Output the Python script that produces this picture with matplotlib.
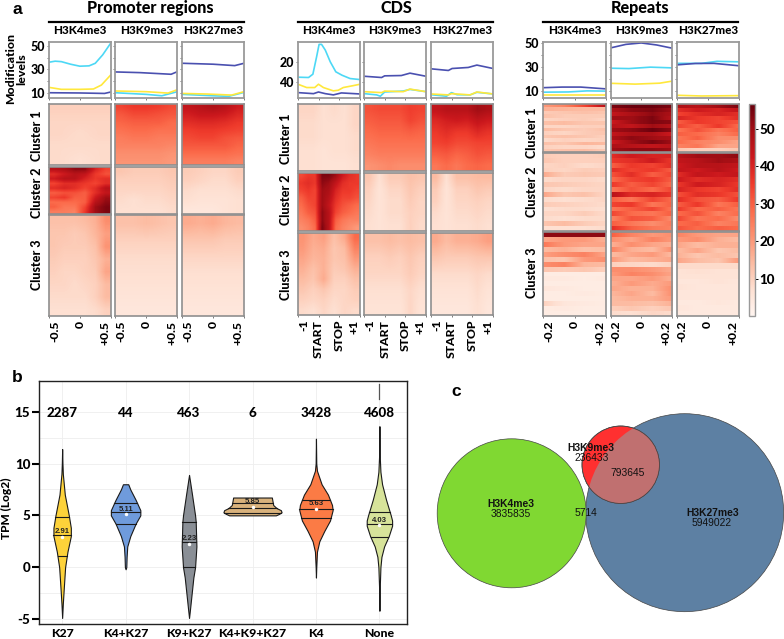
import matplotlib
matplotlib.use("Agg")
import matplotlib.pyplot as plt
import numpy as np
from matplotlib.cm import ScalarMappable
from matplotlib.colors import Normalize
from matplotlib.patches import Circle

W, H = 784, 639
LABEL_FONT = "Lato"
LABEL_WEIGHT = 900
ARIAL = "Liberation Sans"

MARKS = ["H3K4me3", "H3K9me3", "H3K27me3"]
CYAN, YELLOW, NAVY = "#4dd8f5", "#ffe83c", "#4a50b0"

# profile curves: (x fraction, value) per colour
PROMOTER_K4_CYAN = ([0, .1, .2, .35, .5, .65, .75, .87, 1], [36.1, 37, 36.6, 34.4, 32.7, 33, 35.2, 42.4, 52.4])
PROMOTER_K4_YELLOW = ([0, .2, .5, .72, .85, 1], [14.6, 12.9, 12.9, 13.2, 16.6, 25.2])
PROMOTER_K4_NAVY = ([0, .5, .9, 1], [10, 9.8, 9.4, 10.6])
PROMOTER_K9_NAVY = ([0, .4, .9, 1], [27.8, 27.2, 25.8, 28])
PROMOTER_K9_YELLOW = ([0, .5, .85, 1], [11.5, 10.9, 9.7, 12.6])
PROMOTER_K9_CYAN = ([0, .5, .75, 1], [10, 8.6, 7.4, 10.9])
PROMOTER_K27_NAVY = ([0, .5, .85, 1], [35.2, 34.4, 33.2, 35.2])
PROMOTER_K27_YELLOW = ([0, .4, .8, 1], [9.4, 8.9, 8, 10.9])
PROMOTER_K27_CYAN = ([0, .5, .75, 1], [8.6, 7.4, 6.9, 10.3])

CDS_K4_CYAN = ([0, .17, .24, .30, .34, .38, .44, .52, .61, .71, .84, 1], [34.9, 35.2, 32, 15.2, 3.2, 3.2, 8.7, 20, 29.7, 33, 36.2, 37.2])
CDS_K4_YELLOW = ([0, .14, .27, .33, .41, .57, .65, .73, .87, 1], [41.7, 44.9, 44.9, 41.7, 44.9, 48.1, 47.5, 44.9, 43.3, 41.7])
CDS_K4_NAVY = ([0, .25, .33, .44, .57, .70, 1], [49.8, 50.8, 49.2, 50.8, 52, 50.1, 51.1])
CDS_K9_NAVY = ([0, .28, .33, .6, .74, 1], [34, 35.2, 33.6, 33.3, 31, 34])
CDS_K9_YELLOW = ([0, .28, .33, .63, .74, 1], [48.9, 49.8, 48.3, 48.9, 46.4, 48.9])
CDS_K9_CYAN = ([0, .2, .26, .33, .63, .74, 1], [50.8, 52, 53.3, 49.2, 48.3, 46.7, 48.9])
CDS_K27_NAVY = ([0, .28, .34, .6, .74, 1], [26.8, 28.4, 26.5, 25.5, 23.2, 26.5])
CDS_K27_YELLOW = ([0, .28, .33, .63, .74, 1], [51.1, 52, 50.8, 52, 49.2, 51.1])
CDS_K27_CYAN = ([0, .25, .33, .42, .63, .74, 1], [51.8, 53.3, 49.8, 51.8, 52, 49.5, 51.1])

REPEATS_K4_NAVY = ([0, .3, .6, 1], [12.5, 13, 13, 11.5])
REPEATS_K4_CYAN = ([0, .4, .7, 1], [8.7, 8.9, 9.8, 9.6])
REPEATS_K4_YELLOW = ([0, 1], [6.1, 6.1])
REPEATS_K9_NAVY = ([0, .25, .5, .75, 1], [46, 49, 50.2, 48.5, 45.8])
REPEATS_K9_CYAN = ([0, .3, .65, 1], [28.9, 28.6, 29.8, 29.2])
REPEATS_K9_YELLOW = ([0, .4, .8, 1], [16.2, 15.5, 16.3, 18])
REPEATS_K27_NAVY = ([0, .3, .6, 1], [31.7, 32.9, 33, 31])
REPEATS_K27_CYAN = ([0, .4, .65, 1], [33, 33, 34.7, 34.3])
REPEATS_K27_YELLOW = ([0, .4, 1], [6.1, 5.5, 5.8])

# heatmap cells, rows top to bottom, columns left to right
PROMOTER_K4_C1 = [[10, 10, 10], [9, 9, 9], [9, 8, 9], [8, 8, 8], [8, 7, 8]]
PROMOTER_K4_C2 = [[46, 48, 52, 52, 40, 34], [38, 42, 46, 44, 36, 32], [42, 46, 46, 40, 36, 38], [34, 38, 38, 36, 34, 38],
                  [38, 40, 38, 34, 38, 46], [30, 32, 32, 30, 38, 44], [34, 36, 30, 30, 42, 50], [28, 28, 28, 30, 46, 52],
                  [30, 26, 26, 34, 50, 54], [25, 25, 24, 36, 50, 54]]
PROMOTER_K4_C3 = [[13, 13, 13, 14, 16, 22], [12, 12, 11, 12, 15, 19], [12, 11, 11, 11, 13, 21], [11, 10, 10, 10, 12, 16],
                  [10, 9, 9, 10, 11, 18], [9, 9, 8, 9, 10, 14], [8, 8, 8, 8, 10, 14], [7, 7, 7, 7, 8, 10]]
PROMOTER_K9_C1 = [[34, 36, 36, 35, 33], [31, 33, 33, 32, 31], [29, 30, 30, 30, 28], [27, 28, 28, 27, 27],
                  [25, 26, 26, 25, 25], [24, 24, 24, 24, 23], [22, 22, 22, 22, 21], [21, 21, 21, 21, 20]]
PROMOTER_K9_C2 = [[12, 11, 11, 11, 12], [10, 10, 10, 10, 11], [9, 9, 9, 9, 10], [8, 7, 8, 8, 9], [7, 7, 7, 7, 8]]
PROMOTER_K9_C3 = [[13, 13, 14, 13, 12], [10, 10, 10, 10, 10], [8, 8, 8, 8, 8], [7, 7, 7, 7, 7], [6, 6, 6, 6, 6], [5, 5, 5, 5, 5]]
PROMOTER_K27_C1 = [[44, 46, 48, 46, 42], [41, 43, 43, 42, 39], [38, 39, 39, 38, 36], [35, 36, 36, 35, 34],
                   [33, 34, 34, 32, 31], [31, 31, 31, 31, 29], [28, 28, 28, 28, 27], [25, 25, 25, 25, 24]]
PROMOTER_K27_C2 = [[11, 10, 9, 9, 11], [10, 9, 8, 8, 10], [8, 7, 7, 7, 8], [7, 6, 6, 6, 7], [5, 5, 5, 6, 7]]
PROMOTER_K27_C3 = [[17, 16, 17, 15, 14], [12, 12, 12, 11, 11], [9, 9, 9, 9, 9], [7, 7, 7, 7, 7], [6, 6, 6, 6, 6], [5, 5, 5, 5, 5]]

CDS_K4_C1 = [[9, 9, 7, 8, 7, 9], [8, 8, 7, 7, 7, 9], [8, 8, 7, 7, 7, 8], [7, 7, 6, 7, 7, 8], [7, 7, 6, 6, 6, 7]]
CDS_K4_C2 = [[33, 36, 36, 54, 54, 50, 42, 38, 36], [36, 38, 36, 52, 50, 44, 38, 36, 36], [34, 36, 34, 50, 48, 40, 36, 36, 34],
             [30, 34, 34, 50, 46, 38, 34, 34, 32], [28, 32, 34, 50, 44, 36, 32, 30, 28], [26, 30, 32, 52, 46, 34, 30, 28, 26],
             [24, 26, 30, 52, 46, 30, 26, 24, 24], [22, 24, 28, 54, 46, 28, 24, 22, 20]]
CDS_K4_C3 = [[21, 17, 19, 13, 17, 28], [20, 16, 17, 12, 14, 24], [18, 15, 16, 12, 13, 20], [16, 13, 16, 11, 12, 16],
             [14, 12, 17, 10, 10, 13], [12, 10, 12, 9, 9, 11], [10, 9, 10, 8, 9, 10], [8, 7, 9, 7, 9, 8]]
CDS_K9_C1 = [[32, 33, 33, 33, 35, 34], [30, 31, 31, 31, 34, 32], [28, 29, 29, 29, 30, 29], [26, 27, 27, 27, 27, 27],
             [24, 25, 25, 25, 25, 25], [21, 22, 23, 22, 22, 22]]
CDS_K9_C2 = [[12, 7, 11, 11, 13, 12], [10, 6, 9, 9, 12, 10], [9, 6, 8, 8, 11, 9], [8, 6, 8, 8, 10, 9], [7, 6, 7, 7, 10, 8]]
CDS_K9_C3 = [[13, 13, 14, 13, 14, 13], [10, 10, 11, 10, 12, 10], [9, 9, 9, 9, 11, 9], [7, 7, 7, 7, 9, 7], [6, 6, 6, 6, 9, 6]]
CDS_K27_C1 = [[44, 46, 46, 46, 50, 48], [39, 41, 42, 41, 44, 42], [36, 38, 36, 36, 39, 37], [34, 35, 33, 33, 34, 34],
              [30, 31, 29, 30, 32, 31], [26, 28, 26, 28, 29, 28]]
CDS_K27_C2 = [[14, 7, 13, 13, 14, 14], [11, 6, 10, 10, 12, 11], [10, 6, 9, 9, 10, 9], [8, 6, 8, 8, 9, 8], [7, 6, 7, 7, 8, 7]]
CDS_K27_C3 = [[17, 14, 16, 16, 17, 19], [12, 11, 11, 11, 12, 12], [8, 8, 8, 8, 9, 8], [6, 6, 6, 6, 8, 6], [5, 5, 5, 5, 7, 5]]

REPEATS_K4_C1 = [[20, 24, 34, 46], [16, 15, 14, 14], [11, 12, 13, 12], [13, 11, 11, 11], [9, 10, 11, 9], [13, 14, 12, 12],
                 [9, 9, 10, 10], [14, 12, 11, 13], [10, 9, 11, 12], [12, 13, 12, 10], [8, 10, 9, 10], [13, 12, 15, 14],
                 [10, 9, 9, 8], [12, 13, 14, 11]]
REPEATS_K4_C2 = [[11, 10, 10, 11], [12, 10, 10, 10], [9, 10, 8, 9], [10, 9, 11, 10], [17, 11, 12, 11], [8, 9, 9, 8],
                 [12, 11, 10, 9], [9, 8, 9, 9], [18, 12, 13, 9], [8, 7, 8, 9], [11, 10, 9, 8], [7, 8, 8, 7],
                 [9, 9, 11, 8], [8, 7, 8, 8], [12, 14, 11, 9], [7, 7, 7, 8]]
REPEATS_K4_C3 = [[52, 52, 52, 52], [18, 20, 20, 16], [26, 20, 18, 18], [14, 16, 13, 14], [19, 22, 24, 18], [13, 12, 20, 22],
                 [22, 24, 15, 14], [12, 11, 12, 10], [3, 3, 3, 3], [4, 4, 3, 4], [3, 3, 3, 3], [5, 4, 3, 3],
                 [3, 3, 4, 3], [3, 3, 3, 3], [10, 5, 4, 3], [3, 4, 3, 3], [3, 3, 3, 3]]
REPEATS_K9_C1 = [[54, 56, 56, 54], [48, 52, 54, 50], [44, 48, 52, 48], [50, 50, 54, 46], [42, 50, 54, 52], [46, 44, 50, 46],
                 [50, 52, 56, 52], [44, 48, 48, 42], [48, 52, 50, 48], [42, 50, 54, 50], [48, 46, 44, 46], [50, 52, 52, 50]]
REPEATS_K9_C2 = [[38, 42, 40, 40], [36, 38, 42, 36], [30, 36, 34, 38], [38, 34, 36, 30], [32, 38, 30, 34], [28, 34, 36, 30],
                 [36, 30, 34, 28], [26, 32, 28, 34], [46, 38, 40, 36], [30, 26, 34, 28], [34, 36, 26, 30], [26, 30, 34, 26],
                 [34, 28, 26, 30], [24, 32, 30, 22], [30, 26, 22, 26], [38, 30, 26, 24]]
REPEATS_K9_C3 = [[30, 24, 20, 22], [22, 18, 24, 20], [16, 22, 18, 16], [24, 16, 14, 22], [14, 18, 20, 14], [20, 14, 16, 18],
                 [10, 9, 8, 10], [22, 22, 20, 17], [20, 24, 22, 18], [18, 18, 20, 16], [16, 20, 17, 20], [18, 16, 16, 22],
                 [15, 18, 14, 22], [14, 16, 16, 20], [14, 14, 13, 16], [10, 12, 10, 12], [8, 7, 9, 8]]
REPEATS_K27_C1 = [[48, 46, 50, 54], [38, 42, 40, 44], [34, 38, 40, 38], [40, 36, 34, 38], [30, 36, 34, 32], [34, 30, 36, 28],
                  [26, 32, 26, 30], [30, 28, 24, 28], [26, 30, 22, 22], [28, 24, 22, 18], [24, 26, 18, 18], [12, 10, 10, 12]]
REPEATS_K27_C2 = [[46, 50, 50, 52], [44, 46, 50, 48], [42, 46, 46, 44], [44, 42, 46, 42], [38, 44, 42, 44], [42, 38, 40, 38],
                  [36, 42, 40, 36], [40, 36, 34, 38], [32, 38, 36, 32], [38, 32, 30, 36], [30, 36, 26, 30], [36, 28, 30, 26],
                  [28, 32, 24, 28], [34, 26, 28, 22], [28, 30, 24, 26], [32, 28, 30, 28]]
REPEATS_K27_C3 = [[24, 20, 18, 18], [20, 22, 16, 14], [18, 14, 16, 16], [14, 18, 12, 14], [16, 12, 14, 12], [18, 14, 12, 20],
                  [8, 8, 8, 8], [6, 7, 6, 6], [6, 6, 6, 6], [5, 5, 6, 5], [6, 5, 5, 5], [5, 5, 5, 5], [5, 5, 5, 5],
                  [4, 4, 5, 4], [5, 4, 4, 4], [4, 4, 4, 4]]

# panel b
VIOLIN_NAMES = ["K27", "K4+K27", "K9+K27", "K4+K9+K27", "K4", "None"]
COUNTS = ["2287", "44", "463", "6", "3428", "4608"]
MEDIANS = [2.91, 5.11, 2.23, 5.85, 5.63, 4.03]
QUARTILES = [[4.82, 3.09, 1.06], [6.2, 5.3, 4.2], [4.4, 2.4, 0.05], [6.2, 5.7, 5.27], [6.5, 5.6, 4.7], [5.3, 4.2, 2.9]]
VIOLIN_COLORS = ["#fdd23a", "#6f9bdc", "#8a8f96", "#d9b27c", "#fb7b45", "#d7e39a"]
VIOLIN_Y = [
    [11.4, 10, 9, 7, 5, 3.8, 3, 1.5, 0, -2, -3.5, -4.9],
    [8, 7.5, 6.5, 5.5, 5, 4.2, 3, 2, 1, 0, -0.2],
    [8.9, 7, 5, 4.4, 2, 0, -1, -2.5, -4, -4.9],
    [6.72, 6.0, 5.7, 5.5, 5.3, 5.15, 5.0],
    [12.4, 10, 9.3, 8, 7, 6, 5.5, 4.5, 3.5, 2.5, 1.5, 0, -1],
    [13.6, 11, 9.2, 8, 6.5, 5, 4.5, 4, 3, 2, 1, 0, -2, -3.5, -4.2],
]
VIOLIN_HALF = [
    [0, .005, .011, .042, .105, .137, .137, .084, .047, .026, .011, 0],
    [.042, .074, .158, .232, .232, .158, .074, .026, .016, .011, 0],
    [0, .047, .095, .105, .116, .095, .068, .042, .016, 0],
    [.305, .326, .379, .447, .458, .421, .368],
    [0, .005, .016, .089, .189, .253, .263, .221, .132, .053, .016, .005, 0],
    [0, .003, .016, .042, .105, .179, .2, .2, .147, .074, .032, .016, .005, .005, 0],
]
NONE_OUTLIER = [16.2, 17.65]

# panel c
VENN_LABELS = ["H3K4me3", "H3K9me3", "H3K27me3"]
VENN_ONLY = ["3835835", "236433", "5949022"]
VENN_SHARED = ["793645", "5714"]


def px_axes(fig, x0, y0, x1, y1):
    return fig.add_axes([x0 / W, 1 - y1 / H, (x1 - x0) / W, (y1 - y0) / H])


def px_text(fig, x, y, s, **kw):
    kw.setdefault("ha", "center")
    kw.setdefault("va", "center")
    kw.setdefault("fontweight", LABEL_WEIGHT)
    kw.setdefault("family", LABEL_FONT)
    return fig.text(x / W, 1 - y / H, s, **kw)


def style_spines(ax, color="#9a9a9a", lw=1.3):
    for sp in ax.spines.values():
        sp.set_color(color)
        sp.set_linewidth(lw)


def streak_cells(cells):
    # repeats keep their row streaks, only smooth along the columns
    cells = np.array(cells, dtype=float)
    grid = np.arange(cells.shape[1])
    fine = np.arange(0, (cells.shape[1] - 1) * 20 + 1) / 20
    return np.array([np.interp(fine, grid, row) for row in cells])


fig = plt.figure(figsize=(W / 100, H / 100), dpi=100)

GROUPS = [
    {
        "title": "Promoter regions", "tx": 150, "rule": (49.5, 244),
        "cols": [(49, 110.7), (115.3, 177.3), (182.3, 244)],
        "rows": [(104, 165), (167, 214), (215, 316)],
        "clusters_x": 37, "clusters_y": [136, 193, 265],
        "lines": [
            [(PROMOTER_K4_CYAN, CYAN), (PROMOTER_K4_YELLOW, YELLOW), (PROMOTER_K4_NAVY, NAVY)],
            [(PROMOTER_K9_CYAN, CYAN), (PROMOTER_K9_YELLOW, YELLOW), (PROMOTER_K9_NAVY, NAVY)],
            [(PROMOTER_K27_CYAN, CYAN), (PROMOTER_K27_YELLOW, YELLOW), (PROMOTER_K27_NAVY, NAVY)],
        ],
        "ylim": (5.5, 53.4), "yticks": [10, 30, 50], "yminor": [20, 40],
        "cells": [
            [PROMOTER_K4_C1, PROMOTER_K4_C2, PROMOTER_K4_C3],
            [PROMOTER_K9_C1, PROMOTER_K9_C2, PROMOTER_K9_C3],
            [PROMOTER_K27_C1, PROMOTER_K27_C2, PROMOTER_K27_C3],
        ],
        "xticks": [0, .5, 1], "xlabels": ["-0.5", "0", "+0.5"], "streaks": False,
    },
    {
        "title": "CDS", "tx": 396.7, "rule": (298, 492.7),
        "cols": [(298, 360), (364.3, 426), (431, 493)],
        "rows": [(104, 170.7), (172.7, 231.3), (233.3, 315)],
        "clusters_x": 286, "clusters_y": [139, 200, 275],
        "lines": [
            [(CDS_K4_CYAN, CYAN), (CDS_K4_YELLOW, YELLOW), (CDS_K4_NAVY, NAVY)],
            [(CDS_K9_CYAN, CYAN), (CDS_K9_YELLOW, YELLOW), (CDS_K9_NAVY, NAVY)],
            [(CDS_K27_CYAN, CYAN), (CDS_K27_YELLOW, YELLOW), (CDS_K27_NAVY, NAVY)],
        ],
        "ylim": (55, 0.9), "yticks": [20, 40], "yminor": [],
        "cells": [
            [CDS_K4_C1, CDS_K4_C2, CDS_K4_C3],
            [CDS_K9_C1, CDS_K9_C2, CDS_K9_C3],
            [CDS_K27_C1, CDS_K27_C2, CDS_K27_C3],
        ],
        "xticks": [0, 1 / 3, 2 / 3, 1], "xlabels": ["-1", "START", "STOP", "+1"], "streaks": False,
    },
    {
        "title": "Repeats", "tx": 640, "rule": (543, 738),
        "cols": [(543.3, 605.7), (610.5, 672), (676.7, 738.7)],
        "rows": [(104, 152), (153, 231), (232, 316)],
        "clusters_x": 531.7, "clusters_y": [133, 191.7, 273],
        "lines": [
            [(REPEATS_K4_CYAN, CYAN), (REPEATS_K4_YELLOW, YELLOW), (REPEATS_K4_NAVY, NAVY)],
            [(REPEATS_K9_CYAN, CYAN), (REPEATS_K9_YELLOW, YELLOW), (REPEATS_K9_NAVY, NAVY)],
            [(REPEATS_K27_CYAN, CYAN), (REPEATS_K27_YELLOW, YELLOW), (REPEATS_K27_NAVY, NAVY)],
        ],
        "ylim": (3.8, 51), "yticks": [10, 30, 50], "yminor": [20, 40],
        "cells": [
            [REPEATS_K4_C1, REPEATS_K4_C2, REPEATS_K4_C3],
            [REPEATS_K9_C1, REPEATS_K9_C2, REPEATS_K9_C3],
            [REPEATS_K27_C1, REPEATS_K27_C2, REPEATS_K27_C3],
        ],
        "xticks": [0, .5, 1], "xlabels": ["-0.2", "0", "+0.2"], "streaks": True,
    },
]

for group in GROUPS:
    px_text(fig, group["tx"], 8, group["title"], fontsize=11.6)
    fig.add_artist(plt.Line2D([group["rule"][0] / W, group["rule"][1] / W], [1 - 22.3 / H] * 2, color="black", lw=1.6))

    for c, (x0, x1) in enumerate(group["cols"]):
        px_text(fig, (x0 + x1) / 2, 31, MARKS[c], fontsize=8.4)

        # profile on top
        ax = px_axes(fig, x0, 42, x1, 98)
        for (xs, ys), color in group["lines"][c]:
            ax.plot(xs, ys, color=color, lw=1.2, solid_capstyle="round")
        ax.set_xlim(0, 1)
        ax.set_ylim(*group["ylim"])
        ax.set_xticks(group["xticks"])
        ax.set_xticklabels([])
        ax.set_yticks(group["yticks"] + group["yminor"])
        if c == 0:
            labels = [str(t) for t in group["yticks"]] + [""] * len(group["yminor"])
            ax.set_yticklabels(labels, fontsize=9, fontweight=LABEL_WEIGHT, family=LABEL_FONT)
        else:
            ax.set_yticklabels([])
        ax.tick_params(length=1.5, width=0.6, color="#666666", pad=1.5)
        style_spines(ax)

        # heatmap stack
        for r, (y0, y1) in enumerate(group["rows"]):
            ax = px_axes(fig, x0, y0, x1, y1)
            cells = group["cells"][c][r]
            if group["streaks"]:
                ax.imshow(streak_cells(cells), cmap="Reds", vmin=0, vmax=56.6, aspect="auto",
                          interpolation="nearest", extent=(0, 1, 0, 1))
            else:
                ax.imshow(cells, cmap="Reds", vmin=0, vmax=56.6, aspect="auto",
                          interpolation="bilinear", extent=(0, 1, 0, 1))
            ax.set_yticks([])
            if r == 2:
                ax.set_xticks(group["xticks"])
                ax.set_xticklabels(group["xlabels"], rotation=90, fontsize=8.8, fontweight=LABEL_WEIGHT, family=LABEL_FONT)
                ticks = ax.get_xticklabels()
                ticks[0].set_ha("left")
                ticks[-1].set_ha("right")
                ax.tick_params(axis="x", length=1.5, width=0.6, color="#666666", pad=2)
            else:
                ax.set_xticks([])
            style_spines(ax, "#8f8f8f", 1.2)

    for i, y in enumerate(group["clusters_y"]):
        px_text(fig, group["clusters_x"], y, f"Cluster {i + 1}", rotation=90, fontsize=9)

px_text(fig, 16, 69, "Modification\nlevels", rotation=90, fontsize=8.8, linespacing=1.05)
px_text(fig, 17, 9.5, "a", family=ARIAL, fontsize=12.5, fontweight="bold")
px_text(fig, 17, 377, "b", family=ARIAL, fontsize=12.5, fontweight="bold")
px_text(fig, 455.7, 392, "c", family=ARIAL, fontsize=12.5, fontweight="bold")

# colour bar
cax = px_axes(fig, 748.7, 104, 754.7, 316)
cb = fig.colorbar(ScalarMappable(Normalize(0, 56.6), "Reds"), cax=cax)
cb.set_ticks([10, 20, 30, 40, 50])
cb.ax.set_yticklabels(["10", "20", "30", "40", "50"], fontsize=9.6, fontweight=LABEL_WEIGHT, family=LABEL_FONT)
cb.ax.tick_params(length=2, width=0.7, pad=1.5)
cb.outline.set_edgecolor("#9a9a9a")
cb.outline.set_linewidth(1)

# panel b
ax = px_axes(fig, 39.3, 380.7, 406.7, 624.3)
ax.set_xlim(0.64, 6.43)
ax.set_ylim(-5.51, 17.99)
ax.set_yticks([-2.5, 2.5, 7.5, 12.5], minor=True)
ax.grid(True, which="both", color="#eeeeee", lw=0.6)
ax.set_axisbelow(True)
for i, name in enumerate(VIOLIN_NAMES):
    pos = i + 1
    ys = np.array(VIOLIN_Y[i])
    half = np.array(VIOLIN_HALF[i])
    ax.fill_betweenx(ys, pos - half, pos + half, facecolor=VIOLIN_COLORS[i], edgecolor="#1a1a1a", lw=0.8, zorder=2)
    for q in QUARTILES[i]:
        w = np.interp(q, ys[::-1], half[::-1])
        ax.plot([pos - w, pos + w], [q, q], color="#1a1a1a", lw=0.8, zorder=3)
    ax.plot(pos, MEDIANS[i], "o", color="white", ms=2.5, mew=0, zorder=4)
    ax.text(pos, MEDIANS[i] + 0.5, f"{MEDIANS[i]:.2f}", ha="center", va="center", fontsize=5.6,
            fontweight="bold", family=ARIAL, color="#222222", zorder=5)
    ax.text(pos, 14.9, COUNTS[i], ha="center", va="center", fontsize=9.6, fontweight=LABEL_WEIGHT, family=LABEL_FONT)
ax.plot([6, 6], NONE_OUTLIER, color="#555555", lw=0.9)
ax.set_xticks(range(1, 7))
ax.set_xticklabels(VIOLIN_NAMES, fontsize=8.8, fontweight=LABEL_WEIGHT, family=LABEL_FONT)
ax.set_yticks([-5, 0, 5, 10, 15])
ax.set_yticklabels(["-5", "0", "5", "10", "15"], fontsize=9.6, fontweight=LABEL_WEIGHT, family=LABEL_FONT)
ax.tick_params(axis="y", which="major", length=5, width=1.5, pad=1.5)
ax.tick_params(axis="x", which="major", length=0, pad=2.5)
ax.tick_params(which="minor", length=0)
style_spines(ax, "#222222", 1)
px_text(fig, 6.5, 508, "TPM (Log2)", rotation=90, fontsize=8.6)

# panel c, axes in figure pixels
ax = px_axes(fig, 430, 400, 784, 639)
ax.set_xlim(430, 784)
ax.set_ylim(639, 400)
ax.axis("off")
blue = Circle((684.7, 512.7), 99, facecolor="#5d80a3", edgecolor="#444444", lw=0.5)
green = Circle((511.7, 513.3), 74.5, facecolor="#80d832", edgecolor="#444444", lw=0.5)
red = Circle((620.7, 464.7), 38.7, facecolor="#ff3030", edgecolor="#444444", lw=0.5)
ax.add_patch(blue)
ax.add_patch(green)
ax.add_patch(red)
overlap = Circle((620.7, 464.7), 38.7, facecolor="#c07070", edgecolor="none")
ax.add_patch(overlap)
overlap.set_clip_path(Circle((684.7, 512.7), 99, transform=ax.transData))
ax.add_patch(Circle((620.7, 464.7), 38.7, facecolor="none", edgecolor="#444444", lw=0.5))

VENN_TEXT = dict(ha="center", va="center", fontsize=7.4, family=ARIAL, color="#111111")
ax.text(511.3, 503.7, VENN_LABELS[0], fontweight="bold", **VENN_TEXT)
ax.text(511, 514.3, VENN_ONLY[0], **VENN_TEXT)
ax.text(591.3, 448, VENN_LABELS[1], fontweight="bold", **VENN_TEXT)
ax.text(591.7, 458.3, VENN_ONLY[1], **VENN_TEXT)
ax.text(712.3, 512.7, VENN_LABELS[2], fontweight="bold", **VENN_TEXT)
ax.text(711.7, 523.3, VENN_ONLY[2], **VENN_TEXT)
ax.text(628, 473, VENN_SHARED[0], **VENN_TEXT)
ax.text(585.7, 513.3, VENN_SHARED[1], **VENN_TEXT)

fig.savefig("out.png", dpi=100)
